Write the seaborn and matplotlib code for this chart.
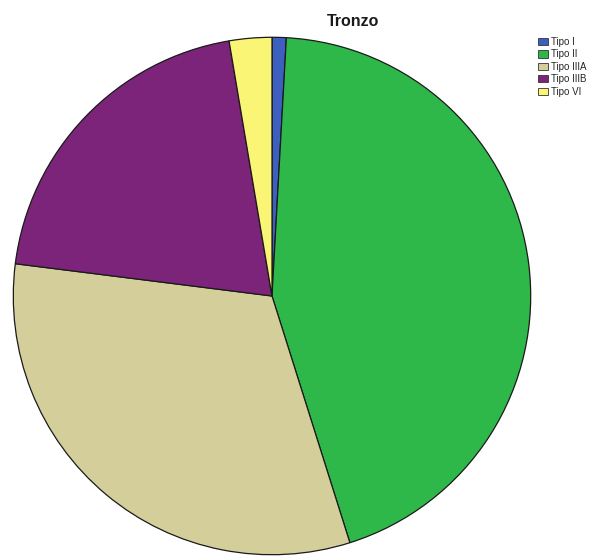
import matplotlib
matplotlib.use("Agg")
import matplotlib.pyplot as plt
import seaborn as sns
from matplotlib.patches import Patch

sns.set_theme(style="white")
plt.rcParams['font.family'] = ['Liberation Sans', 'DejaVu Sans']

categories = ["Tipo I", "Tipo II", "Tipo IIIA", "Tipo IIIB", "Tipo VI"]
counts = [1, 50, 36, 23, 3]
colors = ["#3D5FBF", "#2FB84A", "#D4CF9A", "#7B2479", "#FBF575"]
title = "Tronzo"

W, H = 595, 558
fig = plt.figure(figsize=(W / 100, H / 100), dpi=100)
fig.patch.set_facecolor("white")

cx, cy, r = 272, 296, 260
ax = fig.add_axes([(cx - r) / W, (H - cy - r) / H, 2 * r / W, 2 * r / H])
ax.pie(counts, colors=colors, startangle=90, counterclock=False,
       wedgeprops=dict(edgecolor="#1a1a1a", linewidth=0.9), radius=1.0)
ax.set_xlim(-1.005, 1.005)
ax.set_ylim(-1.005, 1.005)
ax.set_aspect("equal")
ax.axis("off")

fig.text(353 / W, 1 - 21 / H, title, ha="center", va="center",
         fontsize=11.5, fontweight="bold", color="#1a1a1a")

handles = [Patch(facecolor=c, edgecolor="#333333", linewidth=0.6) for c in colors]
fig.legend(handles, categories, loc="upper left",
           bbox_to_anchor=(538 / W, 1 - 37 / H), frameon=False,
           fontsize=7, handlelength=1.0, handleheight=0.75,
           handletextpad=0.35, labelspacing=0.25, borderpad=0, borderaxespad=0)

fig.savefig("out.png", dpi=100, facecolor="white")
